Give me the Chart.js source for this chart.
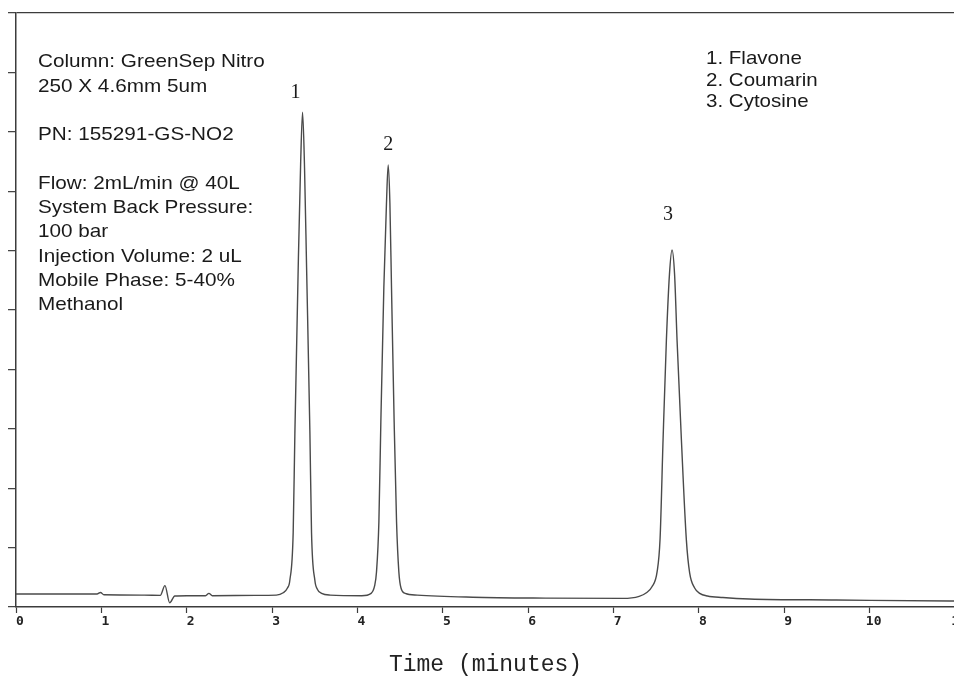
<!DOCTYPE html>
<html>
<head>
<meta charset="utf-8">
<script src="https://cdn.jsdelivr.net/npm/chart.js@4.4.1/dist/chart.umd.min.js"></script>
<style>
  html, body { margin: 0; padding: 0; background: #fff; overflow: hidden; }
  #wrap { position: relative; width: 980px; height: 677px; }
</style>
</head>
<body>
<div id="wrap"><canvas id="chrom"></canvas></div>
<script>
// retention time (min) and detector signal (arbitrary units, 0-100 full scale)
const times = [
  0, 0.5, 0.95, 0.99, 1.03, 1.5, 1.69, 1.745, 1.80, 1.86, 2.0, 2.22, 2.26, 2.30, 2.8, 3.05,
  3.13, 3.18, 3.208, 3.247, 3.267, 3.306, 3.335, 3.357, 3.38, 3.404, 3.443, 3.462, 3.501, 3.53, 3.58, 3.68,
  4.05, 4.16, 4.20, 4.223, 4.251, 4.274, 4.309, 4.34, 4.36, 4.38, 4.399, 4.43, 4.458, 4.485, 4.51, 4.56, 4.70,
  5.35, 6.2, 7.11, 7.30, 7.385, 7.45, 7.51, 7.545, 7.580, 7.619, 7.655, 7.685, 7.715, 7.744, 7.795, 7.853,
  7.892, 7.95, 8.009, 8.10, 8.28, 8.59, 9.61, 10.94, 11
];
const signal = [
  2.2, 2.2, 2.2, 2.45, 2.05, 2.0, 1.95, 3.6, 0.7, 1.85, 1.9, 1.9, 2.3, 1.9, 1.95, 2.0,
  2.4, 3.2, 4.5, 12.5, 29.3, 57.2, 75, 83.3, 74, 57.2, 29.3, 12.5, 4.5, 3.0, 2.3, 2.0,
  1.9, 2.3, 3.5, 5.9, 14.3, 31.1, 53.7, 68, 74.4, 68, 53.7, 31.1, 14.3, 5.9, 3.2, 2.3, 2.0,
  1.65, 1.5, 1.45, 1.8, 2.4, 3.4, 5.9, 11.5, 28.1, 44.9, 56, 60.1, 56, 44.9, 28.1, 11.3,
  5.7, 3.2, 2.3, 1.85, 1.6, 1.35, 1.18, 1.0, 1.0
];

// peaks
const peakNumbers = ['1', '2', '3'];
const peakNames = ['Flavone', 'Coumarin', 'Cytosine'];
const peakTimes = [3.357, 4.36, 7.685];
const peakHeights = [83.3, 74.4, 60.1];

// axis ticks
const timeTicks = [0, 1, 2, 3, 4, 5, 6, 7, 8, 9, 10, 11];
const signalTicks = [0, 10, 20, 30, 40, 50, 60, 70, 80, 90, 100];

// method conditions
const methodLines = [
  'Column: GreenSep Nitro', '250 X 4.6mm 5um', '',
  'PN: 155291-GS-NO2', '',
  'Flow: 2mL/min @ 40L', 'System Back Pressure:', '100 bar',
  'Injection Volume: 2 uL', 'Mobile Phase: 5-40%', 'Methanol'
];

const axisColor = '#3c3c3c';
const inkColor = '#1a1a1a';

// scanned print has slightly wide glyphs
function wideText(ctx, text, x, y, sx) {
  ctx.save();
  ctx.translate(x, y);
  ctx.scale(sx, 1);
  ctx.fillText(text, 0, 0);
  ctx.restore();
}

const labelPlugin = {
  id: 'chromLabels',
  afterDraw(chart) {
    const ctx = chart.ctx;
    const xs = chart.scales.x, ys = chart.scales.y;
    ctx.save();
    ctx.fillStyle = inkColor;
    // peak numbers above apex
    const offs = [[-7, -19], [0, -20], [-4, -35]];
    ctx.font = '20px "Liberation Serif", serif';
    ctx.textAlign = 'center';
    ctx.textBaseline = 'middle';
    peakNumbers.forEach((n, i) => {
      const px = xs.getPixelForValue(peakTimes[i]) + offs[i][0];
      const py = ys.getPixelForValue(peakHeights[i]) + offs[i][1];
      ctx.fillText(n, px, py);
    });
    // method block
    ctx.font = '19px "Liberation Sans", Arial, sans-serif';
    ctx.textAlign = 'left';
    methodLines.forEach((t, i) => {
      if (t) wideText(ctx, t, 38, 62 + i * 24.3, 1.09);
    });
    // compound list
    peakNames.forEach((name, i) => {
      wideText(ctx, peakNumbers[i] + '. ' + name, 706, 59 + i * 21.5, 1.08);
    });
    ctx.restore();
  }
};

new Chart(document.getElementById('chrom'), {
  type: 'line',
  data: {
    datasets: [{
      data: times.map((t, i) => ({ x: t, y: signal[i] })),
      borderColor: '#4a4a4a',
      borderWidth: 1.4,
      pointRadius: 0,
      fill: false,
      cubicInterpolationMode: 'monotone'
    }]
  },
  options: {
    responsive: true,
    maintainAspectRatio: false,
    animation: false,
    layout: { padding: { left: 0, right: 25, top: 13, bottom: 0 } },
    plugins: { legend: { display: false }, tooltip: { enabled: false } },
    scales: {
      x: {
        type: 'linear',
        min: 0,
        max: 11,
        afterBuildTicks: (s) => { s.ticks = timeTicks.map(v => ({ value: v })); },
        afterFit: (s) => { s.height = 70; },
        border: { display: true, color: axisColor, width: 1.5 },
        grid: { drawOnChartArea: false, tickLength: 6, color: axisColor, tickWidth: 1.2 },
        ticks: {
          color: '#222',
          padding: 1,
          labelOffset: 4,
          maxRotation: 0,
          autoSkip: false,
          font: { family: '"DejaVu Sans Mono", monospace', size: 13, weight: 'bold' }
        },
        title: {
          display: true,
          text: 'Time (minutes)',
          color: '#222',
          font: { family: '"Liberation Mono", "Courier New", monospace', size: 23, lineHeight: 1 },
          padding: { top: 0, bottom: 1 }
        }
      },
      y: {
        min: 0,
        max: 100,
        afterBuildTicks: (s) => { s.ticks = signalTicks.map(v => ({ value: v })); },
        afterFit: (s) => { s.width = 16; },
        border: { display: true, color: axisColor, width: 1.5 },
        grid: {
          drawOnChartArea: true,
          tickLength: 8,
          tickColor: axisColor,
          tickWidth: 1.2,
          lineWidth: 1.3,
          color: (c) => (c.tick && c.tick.value === 100 ? axisColor : 'rgba(0,0,0,0)')
        },
        ticks: { display: false }
      }
    }
  },
  plugins: [labelPlugin]
});
</script>
</body>
</html>
